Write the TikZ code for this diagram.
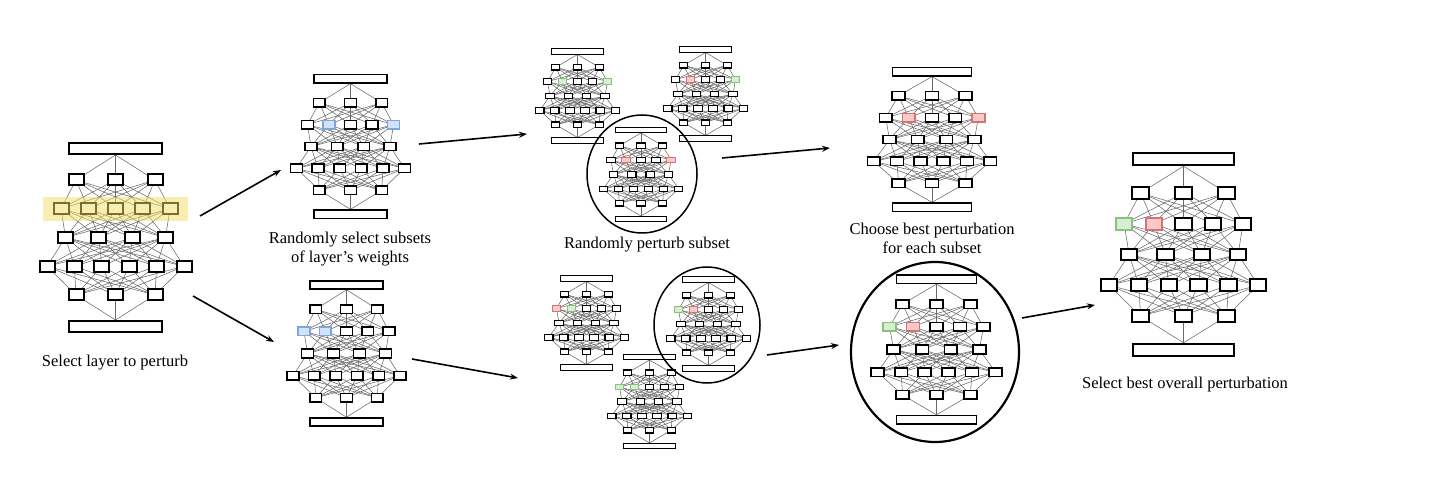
\documentclass[tikz,border=0pt]{standalone}
\usepackage{fontspec}
\setmainfont{Liberation Serif}
\usetikzlibrary{arrows.meta,shapes.geometric}
\pgfdeclarelayer{bg}
\pgfsetlayers{bg,main}
\definecolor{edgegray}{HTML}{6A6A6A}
\definecolor{blueS}{HTML}{7FA6D9}
\definecolor{blueF}{HTML}{D3E2F6}
\definecolor{greenS}{HTML}{86C27C}
\definecolor{greenF}{HTML}{D8EED3}
\definecolor{redS}{HTML}{D8716F}
\definecolor{redF}{HTML}{F6CACA}
\definecolor{hlyellow}{HTML}{F3DE66}
\tikzset{
  x=1pt, y=-1pt,
  nbox/.style={draw=black, fill=white, minimum width=15pt, minimum height=11pt, inner sep=0pt, transform shape},
  nbar/.style={draw=black, fill=white, minimum width=93pt, minimum height=11pt, inner sep=0pt, transform shape},
  nplain/.style={},
  nblue/.style={draw=blueS, fill=blueF},
  ngreen/.style={draw=greenS, fill=greenF},
  nred/.style={draw=redS, fill=redF},
  nedge/.style={draw=edgegray, line width=0.55pt},
  arr/.style={-{Stealth[length=8pt,width=6pt]}, line width=1.6pt},
  ring/.style={ellipse, draw=black, inner sep=0pt},
  lbl/.style={font=\fontsize{16.5}{19}\selectfont, align=center, inner sep=0pt},
  hlbox/.style={fill=hlyellow, fill opacity=0.5, inner sep=0pt, minimum width=145pt, minimum height=24pt}
}
% #1 name, #2 centre, #3 scales, #4 line width, #5 styles of the 5-node row
\newcommand\netdraw[5]{%
\begin{scope}[shift={#2}, #3, name prefix=#1-, line width=#4]
  \node[nbar] (top) at (0,-89) {};
  \foreach \xx [count=\i] in {-39.5,0,39.5} \node[nbox] (a\i) at (\xx,-57.5) {};
  \foreach \st [count=\i] in {#5} \node[nbox,\st] (b\i) at ({(\i-3)*27.25},-28.75) {};
  \foreach \xx [count=\i] in {-50,-16.67,16.67,50} \node[nbox] (c\i) at (\xx,0) {};
  \foreach \xx [count=\i] in {-68.5,-41.1,-13.7,13.7,41.1,68.5} \node[nbox] (d\i) at (\xx,28.75) {};
  \foreach \xx [count=\i] in {-39.5,0,39.5} \node[nbox] (e\i) at (\xx,57.5) {};
  \node[nbar] (bot) at (0,89) {};
  \begin{pgfonlayer}{bg}
    \foreach \i in {1,2,3} {\draw[nedge] (top.south) -- (a\i.center); \draw[nedge] (bot.north) -- (e\i.center);}
    \foreach \i in {1,2,3} \foreach \j in {1,...,5} \draw[nedge] (a\i.center) -- (b\j.center);
    \foreach \i in {1,...,5} \foreach \j in {1,...,4} \draw[nedge] (b\i.center) -- (c\j.center);
    \foreach \i in {1,...,4} \foreach \j in {1,...,6} \draw[nedge] (c\i.center) -- (d\j.center);
    \foreach \i in {1,...,6} \foreach \j in {1,2,3} \draw[nedge] (d\i.center) -- (e\j.center);
  \end{pgfonlayer}
\end{scope}}
\begin{document}
\begin{tikzpicture}
\useasboundingbox (0,0) rectangle (1436,478);

% networks
\netdraw{n1}{(115.5,237.5)}{xscale=1,yscale=1}{2pt}{nplain,nplain,nplain,nplain,nplain}
\node[hlbox] (hl) at (115.5,209) {};
\netdraw{n2}{(350.5,146.5)}{xscale=0.79,yscale=0.76}{1.6pt}{nplain,nblue,nplain,nplain,nblue}
\netdraw{n3}{(346.5,353.5)}{xscale=0.78,yscale=0.77}{1.6pt}{nblue,nblue,nplain,nplain,nplain}
\netdraw{n4}{(577.5,96)}{xscale=0.55,yscale=0.5}{1.1pt}{nplain,ngreen,nplain,nplain,ngreen}
\netdraw{n5}{(705.5,94)}{xscale=0.55,yscale=0.5}{1.1pt}{nplain,nred,nplain,nplain,ngreen}
\netdraw{n6}{(641,174.5)}{xscale=0.55,yscale=0.5}{1.1pt}{nplain,nred,nplain,nplain,nred}
\netdraw{n7}{(586.5,323)}{xscale=0.55,yscale=0.5}{1.1pt}{nred,ngreen,nplain,nplain,nplain}
\netdraw{n8}{(708.5,324)}{xscale=0.55,yscale=0.5}{1.1pt}{ngreen,nred,nplain,nplain,nplain}
\netdraw{n9}{(649.5,401.5)}{xscale=0.55,yscale=0.5}{1.1pt}{ngreen,ngreen,nplain,nplain,nplain}
\netdraw{n10}{(932,139.5)}{xscale=0.85,yscale=0.76}{1.6pt}{nplain,nred,nplain,nplain,nred}
\netdraw{n11}{(936.5,349.5)}{xscale=0.86,yscale=0.79}{1.6pt}{ngreen,nred,nplain,nplain,nplain}
\netdraw{n12}{(1183.6,254.5)}{xscale=1.09,yscale=1.07}{2pt}{ngreen,nred,nplain,nplain,nplain}

% rings
\node[ring, line width=1.5pt, minimum width=110pt, minimum height=118pt] (ring1) at (642,174) {};
\node[ring, line width=1.5pt, minimum width=106pt, minimum height=116pt] (ring2) at (707,325) {};
\node[ring, line width=2.2pt, minimum width=168pt, minimum height=180pt] (ring3) at (935,352) {};

% labels
\node[lbl] (t1) at (115,363) {Select layer to perturb};
\node[lbl] (t2) at (350,249) {Randomly select subsets\\of layer's weights};
\node[lbl] (t3) at (647,245) {Randomly perturb subset};
\node[lbl] (t4) at (932,238) {Choose best perturbation\\for each subset};
\node[lbl] (t5) at (1185,385) {Select best overall perturbation};

% arrows
\coordinate (p1s) at (200,216); \coordinate (p1e) at (281,170);
\coordinate (p2s) at (193,296); \coordinate (p2e) at (274,342);
\coordinate (p3s) at (419,144); \coordinate (p3e) at (527,134);
\coordinate (p4s) at (412,359); \coordinate (p4e) at (518,378);
\coordinate (p5s) at (722,158); \coordinate (p5e) at (830,148);
\coordinate (p6s) at (767,355); \coordinate (p6e) at (839,345);
\coordinate (p7s) at (1022,318); \coordinate (p7e) at (1095,305);
\foreach \k in {1,...,7} \draw[arr] (p\k s) -- (p\k e);
\end{tikzpicture}
\end{document}
